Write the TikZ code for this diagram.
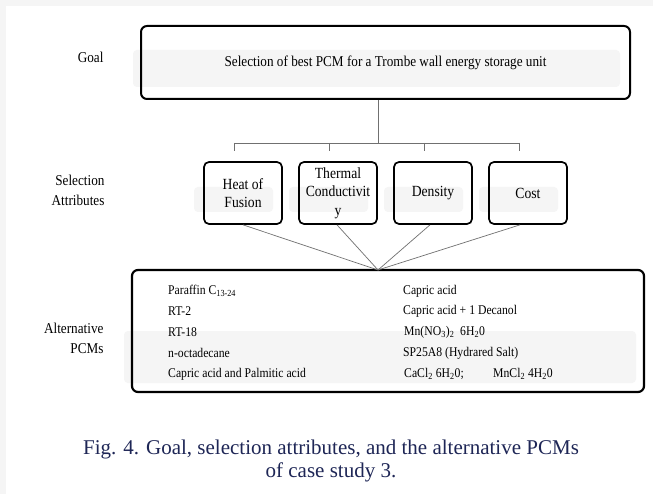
\documentclass[tikz,border=0pt]{standalone}
\usepackage{fontspec}
\setmainfont{Liberation Serif}
\newfontfamily\condfont{Liberation Serif}[FakeStretch=0.88]
\definecolor{capblue}{HTML}{1E2656}
\definecolor{shade}{HTML}{F5F5F5}
\definecolor{linkgray}{HTML}{707070}
\begin{document}
\begin{tikzpicture}[x=1pt,y=-1pt,
  bigbox/.style={draw=black, line width=2pt, rounded corners=6pt, inner sep=0pt},
  attrbox/.style={draw=black, line width=1.7pt, rounded corners=5pt, minimum width=78pt, minimum height=62pt, inner sep=1pt, align=center, font=\condfont\fontsize{15.5}{18.5}\selectfont},
  shadowbox/.style={fill=shade, rounded corners=4pt},
  link/.style={draw=linkgray, line width=0.9pt},
  conv/.style={draw=linkgray, line width=0.7pt},
  lab/.style={anchor=east, align=right, font=\condfont\fontsize{15}{20}\selectfont},
  pcm/.style={anchor=west, inner sep=0pt, font=\condfont\fontsize{13.3}{15}\selectfont},
  captext/.style={align=center, text=capblue, font=\fontsize{21}{23.5}\selectfont}
]
% background
\fill[white] (0,0) rectangle (653,494);
\fill[black!4] (0,0) rectangle (653,6);
\fill[black!4] (0,0) rectangle (6,494);
\useasboundingbox (0,0) rectangle (653,494);

% shadows
\fill[shadowbox] (133,50) rectangle (620,87);
\fill[shadowbox] (194,187) rectangle (273,212);
\fill[shadowbox] (289,187) rectangle (368,212);
\fill[shadowbox] (384,187) rectangle (463,212);
\fill[shadowbox] (479,187) rectangle (558,212);
\fill[shadowbox] (124,331) rectangle (636,383);

% labels
\node[lab] (lgoal) at (107,57) {Goal};
\node[lab] (lattr) at (108,190.5) {Selection\\Attributes};
\node[lab] (lalt) at (107,338) {Alternative\\PCMs};

% goal
\node[bigbox, minimum width=489pt, minimum height=73pt, font=\condfont\fontsize{15}{17}\selectfont] (goal) at (385.5,62.5) {Selection of best PCM for a Trombe wall energy storage unit};

% attributes
\node[attrbox] (heat) at (243,193) {Heat of\\Fusion};
\node[attrbox] (therm) at (338,193) {Thermal\\Conductivit\\y};
\node[attrbox] (dens) at (433,193) {Density};
\node[attrbox] (cost) at (528,193) {Cost};

% alternatives
\node[bigbox, line width=2.2pt, minimum width=512pt, minimum height=122pt] (alt) at (388,331) {};

\node[pcm] (a1) at (168,291) {Paraffin C\textsubscript{13-24}};
\node[pcm] (a2) at (168,311.5) {RT-2};
\node[pcm] (a3) at (168,332) {RT-18};
\node[pcm] (a4) at (168,353) {n-octadecane};
\node[pcm] (a5) at (168,374) {Capric acid and Palmitic acid};
\node[pcm] (b1) at (403,291) {Capric acid};
\node[pcm] (b2) at (403,311.5) {Capric acid + 1 Decanol};
\node[pcm] (b3) at (404,332) {Mn(NO\textsubscript{3})\textsubscript{2}\ \ 6H\textsubscript{2}0};
\node[pcm] (b4) at (403,353) {SP25A8 (Hydrared Salt)};
\node[pcm] (b5) at (404,374) {CaCl\textsubscript{2} 6H\textsubscript{2}0;};
\node[pcm] (b6) at (493,374) {MnCl\textsubscript{2} 4H\textsubscript{2}0};

% tree from goal to attributes
\coordinate (j) at (378,143);
\coordinate (hl) at (234,143);
\coordinate (hr) at (519,143);
\coordinate (t1) at (234,151);
\coordinate (t2) at (329,151);
\coordinate (t3) at (424,151);
\coordinate (t4) at (519,151);
\draw[link] (j |- goal.south) -- (j);
\draw[link] (hl) -- (hr);
\draw[link] (hl) -- (t1);
\draw[link] (t2 |- hl) -- (t2);
\draw[link] (t3 |- hl) -- (t3);
\draw[link] (hr) -- (t4);

% converging links
\coordinate (m) at (378,270);
\draw[conv] (heat.south) -- (m);
\draw[conv] ([xshift=-1pt]therm.south) -- (m);
\draw[conv] ([xshift=-3pt]dens.south) -- (m);
\draw[conv] ([xshift=-8pt]cost.south) -- (m);

% caption
\node[captext] (caption) at (331,461) {Fig. 4. Goal, selection attributes, and the alternative PCMs\\of case study 3.};
\end{tikzpicture}
\end{document}
